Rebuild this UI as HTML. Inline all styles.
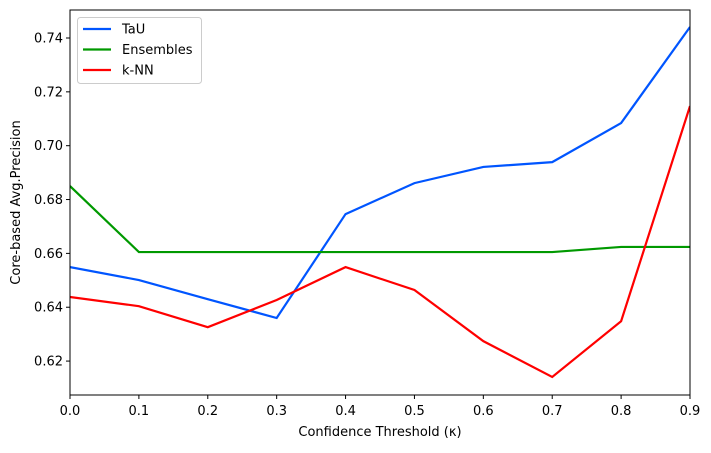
<!DOCTYPE html>
<html><head><meta charset="utf-8"><style>
body{margin:0;background:#fff;font-family:"Liberation Sans","DejaVu Sans",sans-serif;}
text{font-family:"DejaVu Sans","Liberation Sans",sans-serif;font-size:13px;fill:#000}
</style></head><body>
<svg id="chart" width="711" height="448" viewBox="0 0 711 448" xmlns="http://www.w3.org/2000/svg"></svg>
<script>
const xValues=[0.0,0.1,0.2,0.3,0.4,0.5,0.6,0.7,0.8,0.9];
const tauValues=[0.6549,0.6501,0.6430,0.6360,0.6746,0.6861,0.6921,0.6939,0.7084,0.7441];
const ensValues=[0.6850,0.6605,0.6605,0.6605,0.6605,0.6605,0.6605,0.6605,0.6624,0.6624];
const knnValues=[0.6438,0.6404,0.6326,0.6427,0.6549,0.6464,0.6274,0.6141,0.6348,0.7147];
const xTicks=[0.0,0.1,0.2,0.3,0.4,0.5,0.6,0.7,0.8,0.9];
const yTicks=[0.62,0.64,0.66,0.68,0.70,0.72,0.74];
const seriesNames=["TaU","Ensembles","k-NN"];
const seriesColors=["#0055ff","#009900","#ff0000"];
const L=70,R=690,T=10,B=395,xMin=0,xMax=0.9,yMin=0.6074,yMax=0.7504;
const sx=v=>L+(v-xMin)/(xMax-xMin)*(R-L);
const sy=v=>B-(v-yMin)/(yMax-yMin)*(B-T);
const svg=document.getElementById('chart');const NS="http://www.w3.org/2000/svg";
function mk(t,a,p){const e=document.createElementNS(NS,t);for(const k in a)e.setAttribute(k,a[k]);(p||svg).appendChild(e);return e;}
const cp=mk('clipPath',{id:'c'});mk('rect',{x:L,y:T,width:R-L,height:B-T},cp);
xTicks.forEach(v=>{const x=sx(v);
const t=mk('line',{x1:x,x2:x,y1:B,y2:B+4,stroke:'#000'});


const l=mk('text',{x:x,y:B+20,'text-anchor':'middle'});l.textContent=v.toFixed(1);

});
yTicks.forEach(v=>{const y=sy(v);
const t=mk('line',{x1:L-4,x2:L,y1:y,y2:y,stroke:'#000'});


const l=mk('text',{x:L-7,y:y+4.5,'text-anchor':'end'});l.textContent=v.toFixed(2);

});
[tauValues,ensValues,knnValues].forEach((s,i)=>{
const p=mk('polyline',{points:s.map((v,j)=>sx(xValues[j])+','+sy(v)).join(' '),fill:'none',stroke:seriesColors[i],'stroke-width':2.2,'clip-path':'url(#c)'});

});
const fr=mk('rect',{x:L,y:T,width:R-L,height:B-T,fill:'none',stroke:'#000','stroke-width':1});


const xt=mk('text',{x:(L+R)/2,y:436,'text-anchor':'middle'});xt.textContent='Confidence Threshold (κ)';


const yt=mk('text',{x:0,y:0,'text-anchor':'middle',transform:'translate(20,'+((T+B)/2)+') rotate(-90)'});yt.textContent='Core-based Avg.Precision';


const lg=mk('g',{});


mk('rect',{x:77.5,y:17.5,width:124,height:66,rx:3,fill:'#fff',stroke:'#ccc'},lg);
seriesNames.forEach((n,i)=>{const y=29+i*20.5;
mk('line',{x1:83,x2:111,y1:y,y2:y,stroke:seriesColors[i],'stroke-width':2.2},lg);
const t=mk('text',{x:122,y:y+4.5},lg);t.textContent=n;

});
</script>
</body></html>
